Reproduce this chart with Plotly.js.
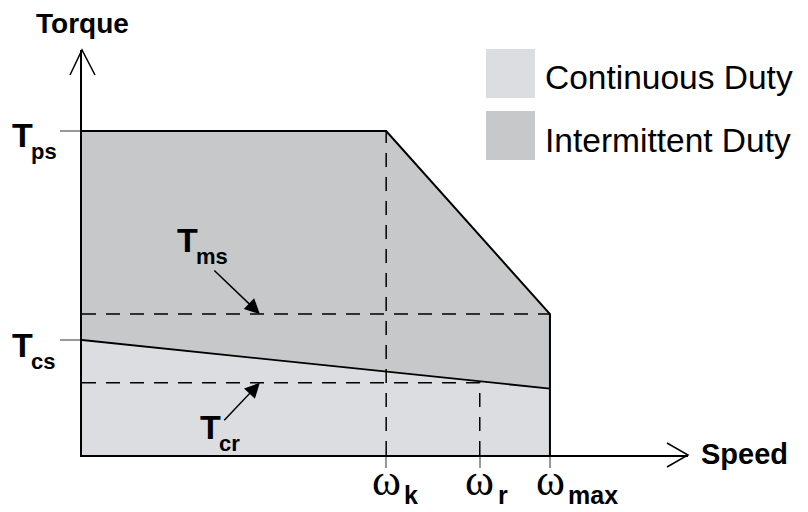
<!DOCTYPE html>
<html>
<head>
<meta charset="utf-8">
<script src="https://cdn.plot.ly/plotly-3.0.1.min.js"></script>
<style>
  html, body { margin: 0; padding: 0; background: #fff; }
  #chart { width: 808px; height: 512px; }
</style>
</head>
<body>
<div id="chart"></div>
<script>
// speed points on the x axis (omega_k, omega_r, omega_max)
const speedKeys = ['k', 'r', 'max'];
const speedVals = [65, 85, 100];

// torque levels on the y axis
const torqueKeys = ['ps', 'cs'];
const torqueVals = [100, 35.5];
const tMs = 43.5;
const tCr = 22.3;

// duty regions
const intermittentX = [0, 0, 65, 100, 100];
const intermittentY = [0, 100, 100, 43.5, 0];
const continuousX = [0, 0, 100, 100];
const continuousY = [0, 35.5, 20.5, 0];

const legendNames = ['Continuous Duty', 'Intermittent Duty'];
const legendColors = ['#dcdde0', '#c7c8ca'];

const SANS = 'Liberation Sans, Arial, sans-serif';
const SERIF = 'Liberation Serif, DejaVu Serif, serif';

// plot box in pixels: left 82, top 50, width 606, height 405
const px = p => (p - 82) / 606;
const py = p => (455 - p) / 405;

function label(x, y, text, size, family, weight, xanchor) {
    return {
        xref: 'paper', yref: 'paper', x: px(x), y: py(y),
        text: text, showarrow: false,
        xanchor: xanchor || 'center', yanchor: 'middle',
        font: { family: family, size: size, color: '#000', weight: weight }
    };
}

function subLabel(x, y, main, sub) {
    return [
        label(x, y, main, 34, SANS, 'bold', 'left'),
        label(x + 19, y + 16, sub, 22, SANS, 'bold', 'left')
    ];
}

const dash = { color: '#000', width: 1.5, dash: '14px,10px' };

const traces = [
    {
        x: intermittentX, y: intermittentY, fill: 'toself',
        fillcolor: legendColors[1], line: { width: 0 }, mode: 'lines', hoverinfo: 'skip'
    },
    {
        x: continuousX, y: continuousY, fill: 'toself',
        fillcolor: legendColors[0], line: { width: 0 }, mode: 'lines', hoverinfo: 'skip'
    },
    // dashed guides
    { x: [0, speedVals[2]], y: [tMs, tMs], mode: 'lines', line: dash },
    { x: [0, speedVals[1], speedVals[1]], y: [tCr, tCr, 0], mode: 'lines', line: dash },
    { x: [speedVals[0], speedVals[0]], y: [0, torqueVals[0]], mode: 'lines', line: dash },
    // boundaries
    {
        x: intermittentX.slice(1), y: intermittentY.slice(1), mode: 'lines',
        line: { color: '#000', width: 2 }
    },
    {
        x: continuousX.slice(1, 3), y: continuousY.slice(1, 3), mode: 'lines',
        line: { color: '#000', width: 1.8 }
    }
];

const annotations = [
    label(82, 24, 'Torque', 28, SANS, 'bold'),
    label(699, 454, 'Speed', 29, SANS, 'bold', 'left'),
    ...subLabel(10, 135, 'T', torqueKeys[0]),
    ...subLabel(10, 345, 'T', torqueKeys[1]),
    ...subLabel(175, 240, 'T', 'ms'),
    ...subLabel(198, 427, 'T', 'cr'),
    // pointer arrows
    {
        x: 38, y: tMs, xref: 'x', yref: 'y', text: '', showarrow: true,
        ax: -47, ay: -45, arrowhead: 2, arrowsize: 2, arrowwidth: 1.5, arrowcolor: '#000', standoff: 0
    },
    {
        x: 38, y: tCr, xref: 'x', yref: 'y', text: '', showarrow: true,
        ax: -37, ay: 39, arrowhead: 2, arrowsize: 2, arrowwidth: 1.5, arrowcolor: '#000', standoff: 0
    }
];

// omega labels under the speed ticks
speedVals.forEach((v, i) => {
    const xp = 82 + v * 4.68;
    annotations.push(label(xp, 480, '\u03c9', 44, SERIF, 'normal'));
    annotations.push(label(xp + 16, 495, speedKeys[i], 25, SANS, 'bold', 'left'));
});

// legend
const shapes = [];
legendNames.forEach((name, i) => {
    const top = 49 + i * 62;
    shapes.push({
        type: 'rect', xref: 'paper', yref: 'paper',
        x0: px(486), x1: px(535), y0: py(top), y1: py(top + 49),
        fillcolor: legendColors[i], line: { width: 0 }
    });
    annotations.push(label(543, top + 29, name, 33.5, SANS, 'normal', 'left'));
});

// axis arrow heads
shapes.push({
    type: 'path', xref: 'paper', yref: 'paper',
    path: `M${px(70)},${py(75)} L${px(82)},${py(50)} L${px(95)},${py(75)}`,
    line: { color: '#000', width: 1.5 }
});
shapes.push({
    type: 'path', xref: 'paper', yref: 'paper',
    path: `M${px(667)},${py(443)} L${px(688)},${py(455)} L${px(667)},${py(467)}`,
    line: { color: '#000', width: 1.5 }
});

const layout = {
    width: 808,
    height: 512,
    margin: { l: 82, r: 120, t: 50, b: 57 },
    paper_bgcolor: '#fff',
    plot_bgcolor: '#fff',
    showlegend: false,
    xaxis: {
        range: [0, 129.5],
        showgrid: false, zeroline: false,
        showline: true, linecolor: '#000', linewidth: 2,
        tickvals: speedVals, ticks: 'outside', ticklen: 11,
        tickcolor: '#999', tickwidth: 1.5, showticklabels: false
    },
    yaxis: {
        range: [0, 125],
        showgrid: false, zeroline: false,
        showline: true, linecolor: '#000', linewidth: 2,
        tickvals: torqueVals, ticks: 'outside', ticklen: 20,
        tickcolor: '#999', tickwidth: 1.5, showticklabels: false
    },
    annotations: annotations,
    shapes: shapes
};

Plotly.newPlot('chart', traces, layout, { staticPlot: true });
</script>
</body>
</html>
